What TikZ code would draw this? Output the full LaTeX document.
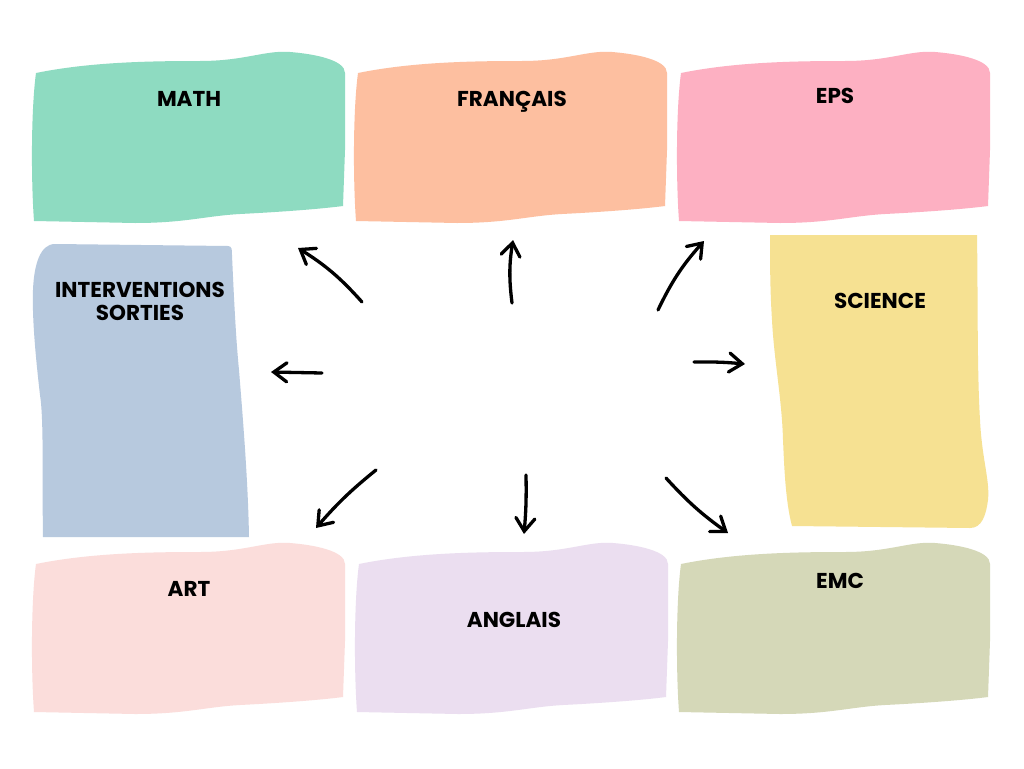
\documentclass[tikz,border=0pt]{standalone}
\usepackage{fontspec}
\setmainfont{Poppins}
\usetikzlibrary{arrows.meta}
\definecolor{cmath}{HTML}{8EDBC1}
\definecolor{cfr}{HTML}{FDBFA0}
\definecolor{ceps}{HTML}{FDB0C2}
\definecolor{cint}{HTML}{B7C9DE}
\definecolor{csci}{HTML}{F6E192}
\definecolor{cart}{HTML}{FBDDDB}
\definecolor{cang}{HTML}{EBDEF0}
\definecolor{cemc}{HTML}{D5D8B8}
\tikzset{
  lbl/.style={font=\bfseries\fontsize{21.5}{23}\selectfont, text=black, align=center, inner sep=0pt, text depth=0pt},
  arr/.style={line width=3.3pt, line cap=round, -{Straight Barb[length=13pt,width=19pt,line cap=round]}},
  wavy/.pic={\fill[#1] (36,73) .. controls (90,62) and (150,61) .. (200,61) .. controls (245,61) and (265,50) .. (290,52) .. controls (315,54) and (345,60) .. (345,73) -- (345,150) -- (343,206) .. controls (320,209) and (280,212) .. (240,214) .. controls (205,216) and (185,223) .. (135,223) -- (34,221) .. controls (31,180) and (31,110) .. (36,73) -- cycle;}
}
\begin{document}
\begin{tikzpicture}[x=1pt,y=-1pt]
\useasboundingbox (0,0) rectangle (1024,768);
\fill[white] (0,0) rectangle (1024,768);
% top row
\pic at (0,0) {wavy=cmath};
\pic at (322,0) {wavy=cfr};
\pic at (645,0) {wavy=ceps};
% bottom row
\pic at (0,491) {wavy=cart};
\pic at (323,491) {wavy=cang};
\pic at (645,491) {wavy=cemc};
% interventions
\fill[cint] (55,244) -- (228,246) .. controls (232,246) and (232,250) .. (232,255) .. controls (234,300) and (236,340) .. (239,370) .. controls (243,420) and (248,480) .. (249,537) -- (43,537) .. controls (42,480) and (44,420) .. (40,395) .. controls (36,360) and (32,320) .. (33,290) .. controls (34,265) and (40,244) .. (55,244) -- cycle;
% science
\fill[csci] (770,235) -- (977,235) .. controls (978,300) and (977,370) .. (980,420) .. controls (982,460) and (990,480) .. (988,500) .. controls (986,515) and (982,528) .. (970,528) -- (792,526) .. controls (785,500) and (784,460) .. (783,440) .. controls (782,400) and (774,360) .. (772,320) .. controls (770,290) and (770,260) .. (770,235) -- cycle;
% labels
\node[lbl] (math) at (189,99) {MATH};
\node[lbl] (fr) at (512,99) {FRANÇAIS};
\node[lbl] (eps) at (835,96) {EPS};
\node[lbl] (inter) at (140,301) {INTERVENTIONS\\SORTIES};
\node[lbl] (sci) at (880,301) {SCIENCE};
\node[lbl] (art) at (189,589) {ART};
\node[lbl] (ang) at (514,620) {ANGLAIS};
\node[lbl] (emc) at (840,581) {EMC};
% arrow ends
\coordinate (s1) at (362,302); \coordinate (t1) at (298,248);
\coordinate (s2) at (512,303); \coordinate (t2) at (513,240);
\coordinate (s3) at (658,310); \coordinate (t3) at (704,241);
\coordinate (s4) at (322,373); \coordinate (t4) at (271,372);
\coordinate (s5) at (694,362); \coordinate (t5) at (745,364);
\coordinate (s6) at (376,470); \coordinate (t6) at (316,528);
\coordinate (s7) at (526,475); \coordinate (t7) at (524,534);
\coordinate (s8) at (666,478); \coordinate (t8) at (728,533);
\draw[arr] (s1) to[bend right=8] (t1);
\draw[arr] (s2) to[bend left=8] (t2);
\draw[arr] (s3) to[bend left=8] (t3);
\draw[arr] (s4) -- (t4);
\draw[arr] (s5) to[bend left=3] (t5);
\draw[arr] (s6) to[bend right=5] (t6);
\draw[arr] (s7) to[bend left=3] (t7);
\draw[arr] (s8) to[bend right=6] (t8);
\end{tikzpicture}
\end{document}
